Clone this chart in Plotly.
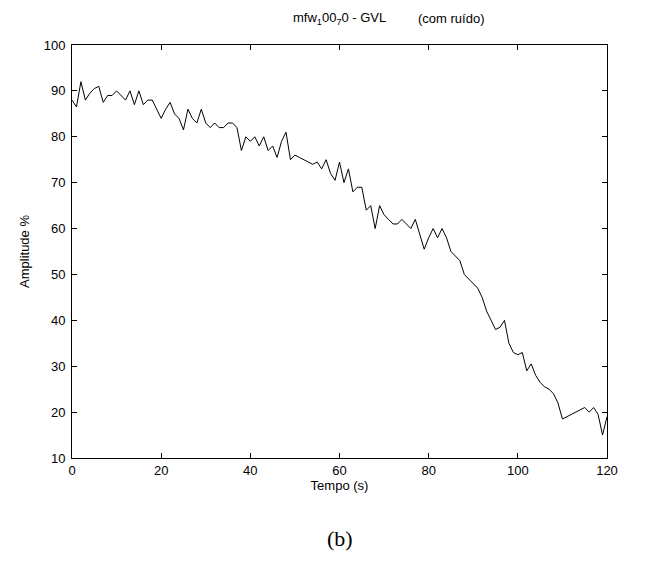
import plotly.graph_objects as go

tempo = [0, 1, 2, 3, 4, 5, 6, 7, 8, 9, 10, 11, 12, 13, 14, 15, 16, 17, 18, 19,
         20, 21, 22, 23, 24, 25, 26, 27, 28, 29, 30, 31, 32, 33, 34, 35, 36, 37, 38, 39,
         40, 41, 42, 43, 44, 45, 46, 47, 48, 49, 50, 51, 52, 53, 54, 55, 56, 57, 58, 59,
         60, 61, 62, 63, 64, 65, 66, 67, 68, 69, 70, 71, 72, 73, 74, 75, 76, 77, 78, 79,
         80, 81, 82, 83, 84, 85, 86, 87, 88, 89, 90, 91, 92, 93, 94, 95, 96, 97, 98, 99,
         100, 101, 102, 103, 104, 105, 106, 107, 108, 109, 110, 111, 112, 113, 114, 115,
         116, 117, 118, 119, 120]
amplitude = [88, 86.5, 92, 88, 89.5, 90.5, 91, 87.5, 89, 89, 90, 89, 88, 90, 87, 90, 87, 88, 88, 86,
             84, 86, 87.5, 85, 84, 81.5, 86, 84, 83, 86, 83, 82, 83, 82, 82, 83, 83, 82, 77, 80,
             79, 80, 78, 80, 77, 78, 75.5, 79, 81, 75, 76, 75.5, 75, 74.5, 74, 74.5, 73, 75, 72, 70.5,
             74.5, 70, 73, 68, 69, 69, 64, 65, 60, 65, 63, 62, 61, 61, 62, 61, 60, 62, 59, 55.5,
             58, 60, 58, 60, 58, 55, 54, 53, 50, 49, 48, 47, 45, 42, 40, 38, 38.5, 40, 35, 33,
             32.5, 33, 29, 30.5, 28, 26.5, 25.5, 25, 24, 22, 18.5, 19, 19.5, 20, 20.5, 21,
             20, 21, 19.5, 15, 19]

x_ticks = [0, 20, 40, 60, 80, 100, 120]
y_ticks = [10, 20, 30, 40, 50, 60, 70, 80, 90, 100]

font = "Liberation Sans, Arial, sans-serif"
fs = 13

L, R, T, B = 64, 54, 37, 114
W, H = 653, 564
pw = W - L - R

fig = go.Figure()
fig.add_trace(go.Scatter(x=tempo, y=amplitude, mode="lines",
                         line=dict(color="black", width=1), showlegend=False))

axis_common = dict(showline=True, linecolor="black", linewidth=1, mirror="ticks",
                   ticks="inside", ticklen=5, tickcolor="black", showgrid=False,
                   zeroline=False, tickfont=dict(family=font, size=fs, color="black"))
fig.update_xaxes(range=[0, 120], tickvals=x_ticks, ticktext=[str(v) for v in x_ticks],
                 title=dict(text="Tempo (s)", font=dict(family=font, size=fs, color="black"),
                            standoff=0),
                 **axis_common)
fig.update_yaxes(range=[10, 100], tickvals=y_ticks, ticktext=[str(v) for v in y_ticks],
                 ticklabelstandoff=3,
                 title=dict(text="Amplitude %", font=dict(family=font, size=fs, color="black"),
                            standoff=11),
                 **axis_common)

fig.add_annotation(text="mfw<sub>1</sub>00<sub>7</sub>0 - GVL", xref="paper", yref="paper",
                   x=(380 - L) / pw, y=1, yshift=T - 10, xanchor="right", yanchor="middle",
                   showarrow=False, font=dict(family=font, size=fs, color="black"))
fig.add_annotation(text="(com ruído)", xref="paper", yref="paper",
                   x=(408 - L) / pw, y=1, yshift=T - 10, xanchor="left", yanchor="middle",
                   showarrow=False, font=dict(family=font, size=fs, color="black"))
fig.add_annotation(text="(b)", xref="paper", yref="paper",
                   x=0.5, y=0, yshift=-80, xanchor="center", yanchor="middle",
                   showarrow=False,
                   font=dict(family="Liberation Serif, Times New Roman, serif", size=22, color="black"))

fig.update_layout(width=W, height=H, margin=dict(l=L, r=R, t=T, b=B),
                  plot_bgcolor="white", paper_bgcolor="white")

fig.write_html("out.html")
